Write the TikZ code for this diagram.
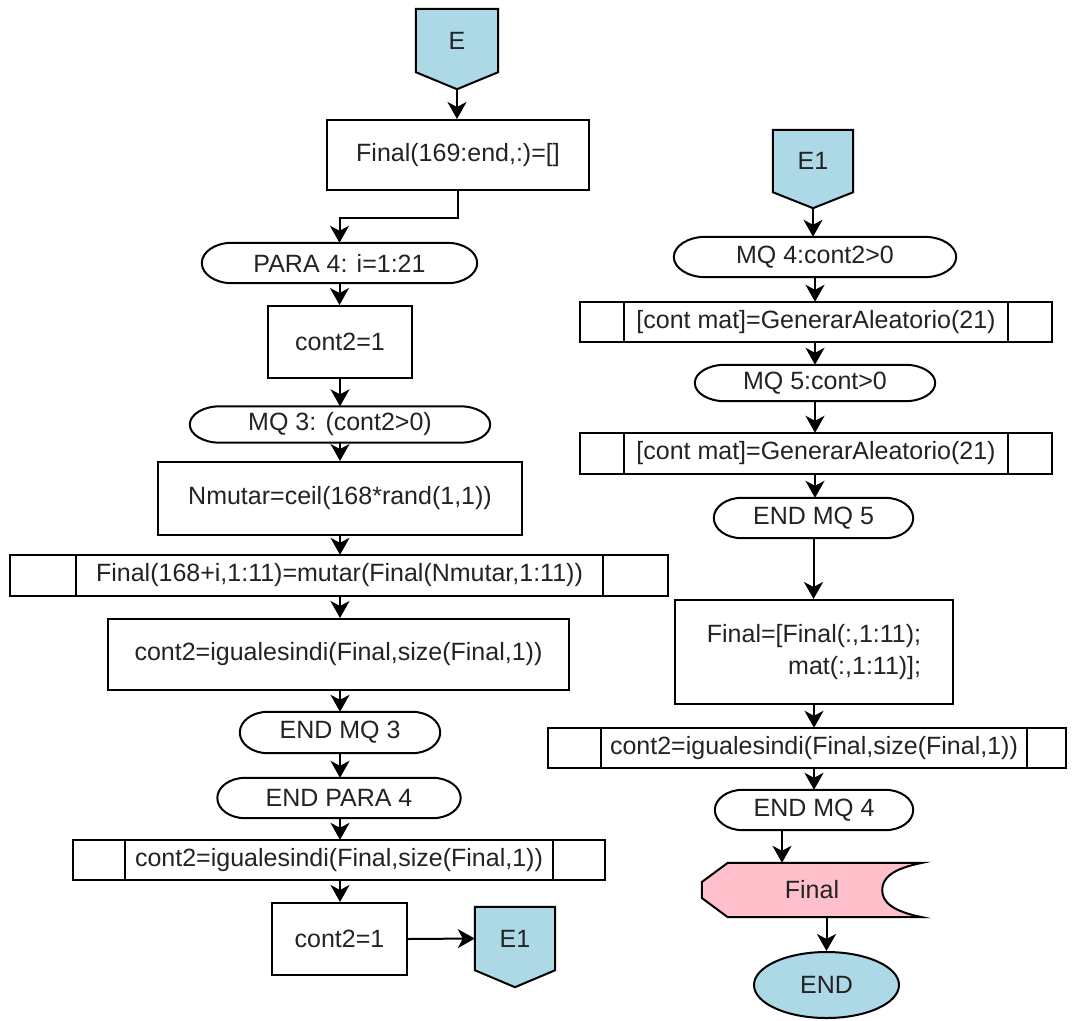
\documentclass[tikz,border=0pt]{standalone}
\usepackage{fontspec}
\setmainfont{Liberation Sans}
\usetikzlibrary{calc,arrows.meta,backgrounds,shapes.geometric}

\definecolor{skyfill}{RGB}{173,216,230}
\definecolor{pinkfill}{RGB}{255,192,203}
\definecolor{ink}{RGB}{35,35,35}

% loop marker: straight top and bottom with half-elliptic ends of depth #2
\newcommand\loopedge[2]{%
  \draw[outline] let \p1=(#1.north west), \p2=(#1.south east), \n1={(\y1-\y2)/2} in
    (\x1+#2pt,\y1) -- (\x2-#2pt,\y1)
    .. controls (\x2-0.448*#2pt,\y1) and (\x2,\y1-0.448*\n1) .. (\x2,\y1-\n1)
    .. controls (\x2,\y2+0.448*\n1) and (\x2-0.448*#2pt,\y2) .. (\x2-#2pt,\y2)
    -- (\x1+#2pt,\y2)
    .. controls (\x1+0.448*#2pt,\y2) and (\x1,\y2+0.448*\n1) .. (\x1,\y2+\n1)
    .. controls (\x1,\y1-0.448*\n1) and (\x1+0.448*#2pt,\y1) .. cycle;}

% predefined process: inner box plus side cells of widths #2 and #3
\newcommand\subproc[3]{%
  \draw[outline] (#1.north west) rectangle (#1.south east);
  \draw[outline] ([xshift=-#2pt]#1.north west) rectangle ([xshift=#3pt]#1.south east);}

% off-page connector: body node #1 with a downward point of depth #2
\newcommand\offpage[2]{%
  \begin{pgfonlayer}{background}
    \filldraw[outline, fill=skyfill] (#1.north west) -- (#1.north east) -- (#1.south east)
      -- ($(#1.south)+(0,#2)$) coordinate (#1-tip) -- (#1.south west) -- cycle;
  \end{pgfonlayer}}

\begin{document}
\begin{tikzpicture}[x=1pt,y=-1pt,
  outline/.style={draw=black, line width=2pt, line join=miter},
  txt/.style={font=\fontsize{25}{32}\selectfont, text=ink, inner sep=0pt},
  procbox/.style={txt, rectangle, draw=black, line width=2pt},
  loopnode/.style={txt, rectangle},
  subnode/.style={txt, rectangle},
  offnode/.style={txt, rectangle},
  dispnode/.style={txt, rectangle},
  endnode/.style={txt, ellipse, draw=black, line width=2pt, fill=skyfill},
  flow/.style={line width=2pt, -{Stealth[length=17pt,width=19pt,inset=5pt]}}]

\begin{pgfonlayer}{background}
  \fill[white] (0,0) rectangle (1073,1020);
\end{pgfonlayer}
\useasboundingbox (0,0) rectangle (1073,1020);

% ---------- left column ----------
\node[offnode, minimum width=82pt, minimum height=63pt] (E) at (457,40.5) {E};
\offpage{E}{17}

\node[procbox, minimum width=262pt, minimum height=70pt] (fin169) at (458,155) {Final(169:end,:)=[]};

\node[loopnode, minimum width=275pt, minimum height=40pt] (para) at (339.5,263) {PARA 4: i=1:21};
\loopedge{para}{30}

\node[procbox, minimum width=144pt, minimum height=72pt] (c21a) at (340,342) {cont2=1};

\node[loopnode, minimum width=300pt, minimum height=36pt] (mq3) at (340,424.5) {MQ 3: (cont2>0)};
\loopedge{mq3}{30}

\node[procbox, minimum width=364pt, minimum height=73pt] (nmut) at (340,498.5) {Nmutar=ceil(168*rand(1,1))};

\node[subnode, minimum width=527pt, minimum height=41pt] (f168) at (339.5,575.5) {Final(168+i,1:11)=mutar(Final(Nmutar,1:11))};
\subproc{f168}{66}{65}

\node[procbox, minimum width=461pt, minimum height=71pt] (cig) at (338.5,654.5) {cont2=igualesindi(Final,size(Final,1))};

\node[loopnode, minimum width=200pt, minimum height=41pt] (emq3) at (340,732.5) {END MQ 3};
\loopedge{emq3}{28}

\node[loopnode, minimum width=243pt, minimum height=40pt] (epara) at (339,798) {END PARA 4};
\loopedge{epara}{28}

\node[subnode, minimum width=428pt, minimum height=40pt] (cigp) at (339,860) {cont2=igualesindi(Final,size(Final,1))};
\subproc{cigp}{52}{52}

\node[procbox, minimum width=135pt, minimum height=72pt] (c21b) at (339.5,939) {cont2=1};

\node[offnode, minimum width=80pt, minimum height=63pt] (E1b) at (515,938.5) {E1};
\offpage{E1b}{17}

% ---------- right column ----------
\node[offnode, minimum width=80pt, minimum height=62pt] (E1t) at (813,161) {E1};
\offpage{E1t}{16}

\node[loopnode, minimum width=282pt, minimum height=40pt] (mq4) at (815,257) {MQ 4:cont2>0};
\loopedge{mq4}{32}

\node[subnode, minimum width=384pt, minimum height=40pt] (gen1) at (816,322) {{[cont mat]=GenerarAleatorio(21)}};
\subproc{gen1}{44}{44}

\node[loopnode, minimum width=240pt, minimum height=36pt] (mq5) at (815,383) {MQ 5:cont>0};
\loopedge{mq5}{30}

\node[subnode, minimum width=384pt, minimum height=41pt] (gen2) at (816,453.5) {{[cont mat]=GenerarAleatorio(21)}};
\subproc{gen2}{44}{44}

\node[loopnode, minimum width=199pt, minimum height=40pt] (emq5) at (813.5,518) {END MQ 5};
\loopedge{emq5}{28}

\node[procbox, minimum width=278pt, minimum height=104pt, align=right] (fbox) at (814,652)
  {Final=[Final(:,1:11);\\mat(:,1:11)];};

\node[subnode, minimum width=426pt, minimum height=40pt] (cigr) at (814,748) {cont2=igualesindi(Final,size(Final,1))};
\subproc{cigr}{53}{39}

\node[loopnode, minimum width=198pt, minimum height=40pt] (emq4) at (814,810) {END MQ 4};
\loopedge{emq4}{28}

\node[dispnode, minimum width=220pt, minimum height=54pt] (disp) at (812,890) {Final};
\begin{pgfonlayer}{background}
  \filldraw[outline, fill=pinkfill]
    ($(disp.north west)+(26,0)$) -- (disp.north east)
    .. controls ($(disp.north east)+(-30,6)$) and ($(disp.east)+(-40,-12)$) .. ($(disp.east)+(-40,0)$)
    .. controls ($(disp.east)+(-40,12)$) and ($(disp.south east)+(-30,-6)$) .. (disp.south east)
    -- ($(disp.south west)+(26,0)$) -- ($(disp.west)+(0,8)$) -- ($(disp.west)+(0,-8)$) -- cycle;
\end{pgfonlayer}

\node[endnode, minimum width=145pt, minimum height=66pt] (endn) at (826.5,985) {END};

% ---------- connectors ----------
\draw[flow] (E-tip) -- (E-tip |- fin169.north);
\draw[flow] (fin169.south) -- ++(0,27) -| (para.north);
\draw[flow] (para.south) -- (para.south |- c21a.north);
\draw[flow] (c21a.south) -- (mq3.north);
\draw[flow] (mq3.south) -- (nmut.north);
\draw[flow] (nmut.south) -- (nmut.south |- f168.north);
\draw[flow] (nmut.south |- f168.south) -- (nmut.south |- cig.north);
\draw[flow] (emq3.north |- cig.south) -- (emq3.north);
\draw[flow] (emq3.south) -- (emq3.south |- epara.north);
\draw[flow] (emq3.south |- epara.south) -- (emq3.south |- cigp.north);
\draw[flow] (emq3.south |- cigp.south) -- (emq3.south |- c21b.north);
\draw[flow] (c21b.east) -- (E1b.west);

\draw[flow] (E1t-tip) -- (E1t-tip |- mq4.north);
\draw[flow] (mq4.south) -- (mq4.south |- gen1.north);
\draw[flow] (mq5.north |- gen1.south) -- (mq5.north);
\draw[flow] (mq5.south) -- (mq5.south |- gen2.north);
\draw[flow] (mq5.south |- gen2.south) -- (mq5.south |- emq5.north);
\draw[flow] (emq5.south) -- (emq5.south |- fbox.north);
\draw[flow] (fbox.south) -- (fbox.south |- cigr.north);
\draw[flow] (emq4.north |- cigr.south) -- (emq4.north);
\draw[flow] ([xshift=-32pt]emq4.south) -- ([xshift=-32pt]emq4.south |- disp.north);
\draw[flow] (endn.north |- disp.south) -- (endn.north);
\end{tikzpicture}
\end{document}
